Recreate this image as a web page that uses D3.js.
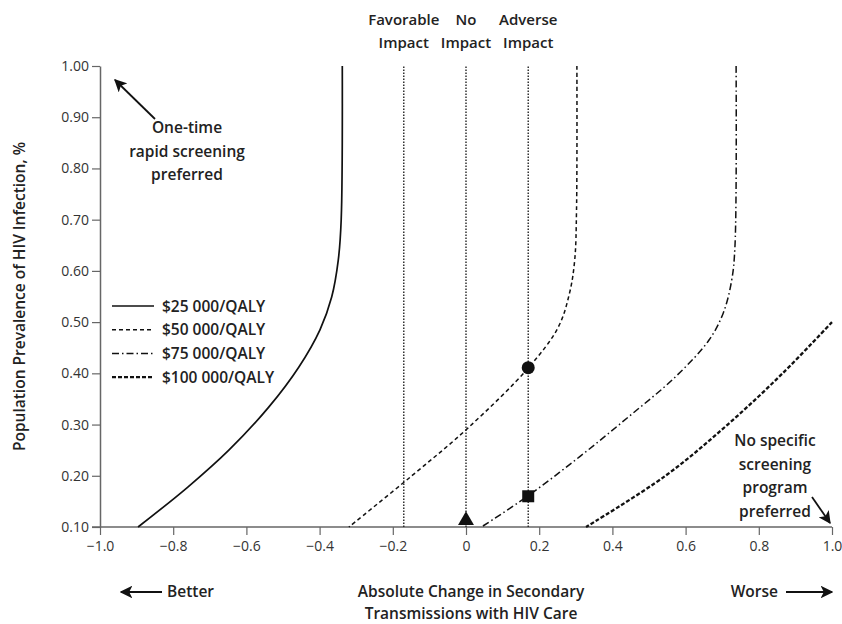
<!DOCTYPE html>
<html lang="en">
<head>
  <meta charset="UTF-8">
  <title>Cost-effectiveness thresholds</title>
  <script src="https://d3js.org/d3.v7.min.js"></script>
  <style>
    body { margin: 0; background: #fff; }
    text { font-family: "Open Sans", "Noto Sans", sans-serif; fill: #222; }
  </style>
</head>
<body>
  <script>
    // curves: [change in transmissions, prevalence]
    const wtp25 = [[-0.896, 0.10], [-0.760, 0.178], [-0.648, 0.25], [-0.539, 0.334], [-0.457, 0.412],
      [-0.399, 0.485], [-0.367, 0.549], [-0.349, 0.621], [-0.341, 0.70], [-0.338, 1.00]];
    const wtp50 = [[-0.32, 0.10], [-0.148, 0.20], [0.005, 0.293], [0.172, 0.412], [0.252, 0.49],
      [0.283, 0.557], [0.297, 0.621], [0.302, 0.72], [0.303, 1.00]];
    const wtp75 = [[0.042, 0.10], [0.168, 0.16], [0.31, 0.237], [0.444, 0.315], [0.572, 0.393],
      [0.664, 0.465], [0.703, 0.518], [0.726, 0.582], [0.735, 0.65], [0.738, 1.00]];
    const wtp100 = [[0.328, 0.10], [0.545, 0.20], [0.715, 0.30], [0.865, 0.40], [1.00, 0.50]];

    const series = ['$25 000/QALY', '$50 000/QALY', '$75 000/QALY', '$100 000/QALY'];
    const curves = [wtp25, wtp50, wtp75, wtp100];
    const dashes = ['none', '4,3', '7,3,1.5,3', '4,2'];
    const widths = [1.7, 1.5, 1.5, 2.3];

    const impactX = [-0.17, 0, 0.17];
    const impactLabels = [['Favorable', 'Impact'], ['No', 'Impact'], ['Adverse', 'Impact']];

    // markers
    const markers = [
      { type: 'circle', x: 0.17, y: 0.411 },
      { type: 'square', x: 0.17, y: 0.16 },
      { type: 'triangle', x: 0, y: 0.113 }
    ];

    const xTicks = [-1.0, -0.8, -0.6, -0.4, -0.2, 0, 0.2, 0.4, 0.6, 0.8, 1.0];
    const xTickLabels = ['\u22121.0', '\u22120.8', '\u22120.6', '\u22120.4', '\u22120.2', '0', '0.2', '0.4', '0.6', '0.8', '1.0'];
    const yTicks = [0.10, 0.20, 0.30, 0.40, 0.50, 0.60, 0.70, 0.80, 0.90, 1.00];

    const w = 842, h = 624;
    const svg = d3.select('body').append('svg').attr('width', w).attr('height', h);

    const xScale = d3.scaleLinear().domain([-1, 1]).range([100, 832]);
    const yScale = d3.scaleLinear().domain([0.1, 1.0]).range([527, 66]);

    const axisColor = '#666';
    const fs = 15.5;

    // x axis
    const xAxis = svg.append('g')
      .attr('transform', `translate(0,${yScale(0.1)})`)
      .call(d3.axisBottom(xScale).tickValues(xTicks).tickFormat((d, i) => xTickLabels[i]).tickSize(8).tickSizeOuter(0));
    xAxis.select('.domain').remove();
    xAxis.append('line').attr('x1', 92).attr('x2', xScale(1)).attr('stroke', axisColor).attr('stroke-width', 1.5);
    xAxis.selectAll('.tick line').attr('stroke', axisColor).attr('stroke-width', 1.2);
    xAxis.selectAll('.tick text').attr('font-size', 14).attr('dy', '0.95em').style('fill', '#333');

    // y axis
    const yAxis = svg.append('g')
      .attr('transform', `translate(${xScale(-1)},0)`)
      .call(d3.axisLeft(yScale).tickValues(yTicks).tickFormat(d3.format('.2f')).tickSize(8).tickSizeOuter(0));
    yAxis.select('.domain').attr('stroke', axisColor).attr('stroke-width', 1.5);
    yAxis.selectAll('.tick line').attr('stroke', axisColor).attr('stroke-width', 1.2);
    yAxis.selectAll('.tick text').attr('font-size', 14).style('fill', '#333');

    // dotted impact lines
    svg.selectAll('.impact')
      .data(impactX)
      .enter()
      .append('line')
      .attr('x1', d => xScale(d)).attr('x2', d => xScale(d))
      .attr('y1', yScale(0.1)).attr('y2', yScale(1.0))
      .attr('stroke', '#222').attr('stroke-width', 1.4).attr('stroke-dasharray', '1.5,1.5');

    impactLabels.forEach((lab, i) => {
      lab.forEach((t, j) => {
        svg.append('text')
          .attr('x', xScale(impactX[i])).attr('y', 25 + j * 23)
          .attr('text-anchor', 'middle').attr('font-size', 15).attr('font-weight', 600)
          .text(t);
      });
    });

    // curves
    const line = d3.line()
      .x(d => xScale(d[0]))
      .y(d => yScale(d[1]))
      .curve(d3.curveCatmullRom.alpha(0.5));

    svg.selectAll('.curve')
      .data(curves)
      .enter()
      .append('path')
      .attr('d', d => line(d.slice().sort((a, b) => b[1] - a[1])))
      .attr('fill', 'none')
      .attr('stroke', '#111')
      .attr('stroke-width', (d, i) => widths[i])
      .attr('stroke-dasharray', (d, i) => dashes[i]);

    // markers
    markers.forEach(m => {
      const cx = xScale(m.x), cy = yScale(m.y);
      if (m.type === 'circle') {
        svg.append('circle').attr('cx', cx).attr('cy', cy).attr('r', 6.5).attr('fill', '#111');
      } else if (m.type === 'square') {
        svg.append('rect').attr('x', cx - 6).attr('y', cy - 6).attr('width', 12).attr('height', 12).attr('fill', '#111');
      } else {
        svg.append('path')
          .attr('d', d3.symbol().type(d3.symbolTriangle).size(110)())
          .attr('transform', `translate(${cx},${cy})`)
          .attr('fill', '#111');
      }
    });

    // legend
    const legend = svg.append('g').attr('transform', 'translate(112,306)');
    series.forEach((s, i) => {
      const g = legend.append('g').attr('transform', `translate(0,${i * 23.7})`);
      g.append('line').attr('x1', 0).attr('x2', 42).attr('y1', 0).attr('y2', 0)
        .attr('stroke', '#111').attr('stroke-width', widths[i]).attr('stroke-dasharray', dashes[i]);
      g.append('text').attr('x', 50).attr('y', 5.5).attr('font-size', fs).attr('font-weight', 600).text(s);
    });

    // arrow marker
    svg.append('defs').append('marker')
      .attr('id', 'head').attr('viewBox', '0 0 10 10').attr('refX', 9).attr('refY', 5)
      .attr('markerWidth', 7).attr('markerHeight', 7).attr('orient', 'auto')
      .append('path').attr('d', 'M0,0 L10,5 L0,10 L2.5,5 Z').attr('fill', '#111');

    // annotations
    const note1 = ['One-time', 'rapid screening', 'preferred'];
    note1.forEach((t, i) => {
      svg.append('text').attr('x', 187).attr('y', 133 + i * 23.5)
        .attr('text-anchor', 'middle').attr('font-size', fs).attr('font-weight', 600).text(t);
    });
    svg.append('line').attr('x1', 155).attr('y1', 119).attr('x2', 115).attr('y2', 80)
      .attr('stroke', '#111').attr('stroke-width', 1.8).attr('marker-end', 'url(#head)');

    const note2 = ['No specific', 'screening', 'program', 'preferred'];
    note2.forEach((t, i) => {
      svg.append('text').attr('x', 775).attr('y', 446 + i * 23.5)
        .attr('text-anchor', 'middle').attr('font-size', fs).attr('font-weight', 600).text(t);
    });
    svg.append('line').attr('x1', 812).attr('y1', 497).attr('x2', 830).attr('y2', 523)
      .attr('stroke', '#111').attr('stroke-width', 1.8).attr('marker-end', 'url(#head)');

    // bottom labels
    svg.append('text').attr('x', 471).attr('y', 597).attr('text-anchor', 'middle')
      .attr('font-size', fs).attr('font-weight', 600).text('Absolute Change in Secondary');
    svg.append('text').attr('x', 471).attr('y', 619).attr('text-anchor', 'middle')
      .attr('font-size', fs).attr('font-weight', 600).text('Transmissions with HIV Care');

    svg.append('line').attr('x1', 162).attr('y1', 592).attr('x2', 121).attr('y2', 592)
      .attr('stroke', '#111').attr('stroke-width', 1.8).attr('marker-end', 'url(#head)');
    svg.append('text').attr('x', 167).attr('y', 597).attr('font-size', fs).attr('font-weight', 600).text('Better');

    svg.append('text').attr('x', 778).attr('y', 597).attr('text-anchor', 'end')
      .attr('font-size', fs).attr('font-weight', 600).text('Worse');
    svg.append('line').attr('x1', 786).attr('y1', 592).attr('x2', 832).attr('y2', 592)
      .attr('stroke', '#111').attr('stroke-width', 1.8).attr('marker-end', 'url(#head)');

    // y title
    svg.append('text')
      .attr('transform', `translate(25,${(yScale(0.1) + yScale(1)) / 2}) rotate(-90)`)
      .attr('text-anchor', 'middle').attr('font-size', fs).attr('font-weight', 600)
      .text('Population Prevalence of HIV Infection, %');
  </script>
</body>
</html>
